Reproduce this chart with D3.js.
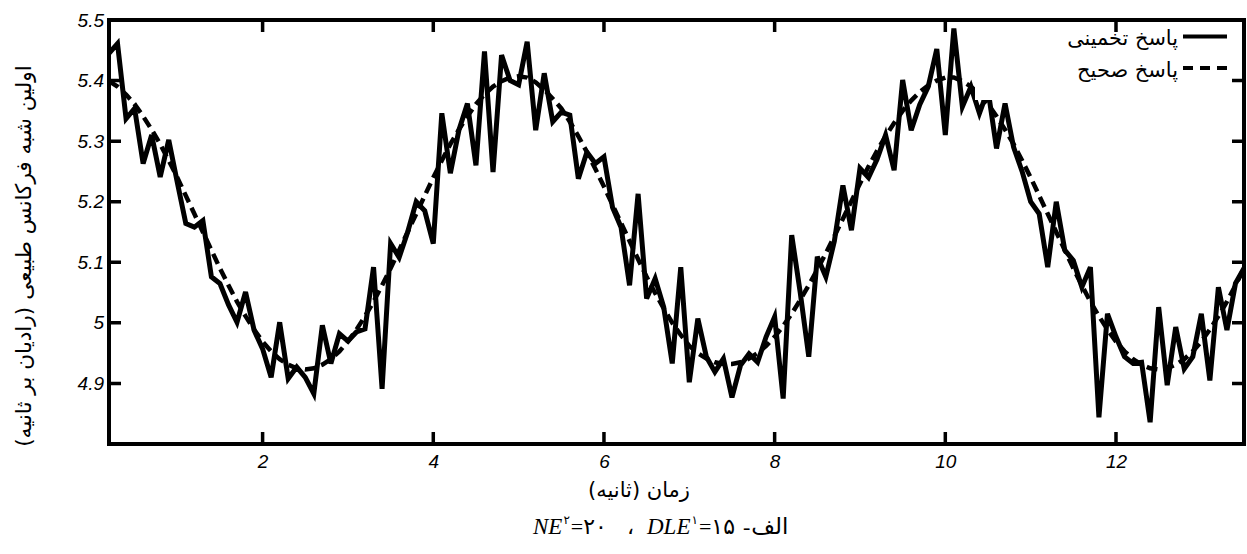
<!DOCTYPE html>
<html>
<head>
<meta charset="utf-8">
<script src="https://cdn.jsdelivr.net/npm/d3@7"></script>
<style>
html,body{margin:0;padding:0;background:#fff;}
svg{display:block;}
</style>
</head>
<body>
<svg id="chart" width="1247" height="554" viewBox="0 0 1247 554"></svg>
<script>
// ---------- data ----------
const timeStart = 0.2;
const timeEnd = 13.5;
const times = d3.range(2, 136).map(k => k / 10); // 0.2 .. 13.5 s

// estimated response (solid)
const estimated = [
5.445,5.461,5.337,5.354,5.263,5.310,5.241,5.302,5.232,5.164,
5.158,5.169,5.076,5.065,5.030,5.001,5.051,4.988,4.957,4.910,
5.001,4.908,4.927,4.910,4.883,4.996,4.933,4.982,4.970,4.985,
4.990,5.092,4.891,5.131,5.108,5.150,5.200,5.185,5.131,5.346,
5.247,5.318,5.362,5.260,5.448,5.249,5.442,5.400,5.393,5.464,
5.318,5.412,5.332,5.348,5.343,5.238,5.282,5.263,5.274,5.191,
5.158,5.062,5.213,5.040,5.073,5.026,4.933,5.092,4.902,5.007,
4.944,4.919,4.941,4.877,4.930,4.949,4.935,4.977,5.010,4.875,
5.145,5.050,4.944,5.109,5.076,5.135,5.227,5.153,5.255,5.240,
5.270,5.310,5.252,5.401,5.318,5.360,5.390,5.452,5.310,5.486,
5.357,5.390,5.346,5.385,5.288,5.362,5.290,5.250,5.200,5.180,
5.092,5.200,5.120,5.103,5.059,5.092,4.844,5.015,4.977,4.944,
4.933,4.935,4.836,5.026,4.897,4.993,4.924,4.944,5.015,4.905,
5.059,4.988,5.065,5.090
];

// exact response (dashed)
const exact = [
5.399,5.390,5.377,5.361,5.341,5.319,5.295,5.268,5.240,5.210,
5.180,5.150,5.120,5.090,5.062,5.035,5.011,4.989,4.969,4.953,
4.940,4.931,4.925,4.923,4.925,4.931,4.940,4.953,4.969,4.989,
5.011,5.035,5.062,5.090,5.120,5.150,5.180,5.210,5.240,5.268,
5.295,5.319,5.341,5.361,5.377,5.390,5.399,5.405,5.407,5.405,
5.397,5.385,5.370,5.354,5.332,5.308,5.282,5.254,5.225,5.195,
5.165,5.135,5.105,5.076,5.049,5.024,5.000,4.980,4.962,4.950,
4.941,4.935,4.932,4.932,4.935,4.941,4.950,4.962,4.977,4.995,
5.015,5.038,5.062,5.088,5.115,5.143,5.172,5.201,5.230,5.258,
5.284,5.308,5.330,5.350,5.367,5.381,5.392,5.400,5.405,5.405,
5.399,5.390,5.377,5.361,5.341,5.319,5.295,5.268,5.240,5.210,
5.180,5.150,5.120,5.090,5.062,5.035,5.011,4.989,4.969,4.953,
4.940,4.931,4.925,4.923,4.925,4.931,4.940,4.953,4.969,4.989,
5.011,5.035,5.062,5.090
];

const xTicks = [2, 4, 6, 8, 10, 12];
const yTicks = [4.9, 5.0, 5.1, 5.2, 5.3, 5.4, 5.5];
const yTickLabels = ["4.9", "5", "5.1", "5.2", "5.3", "5.4", "5.5"];
const yDomain = [4.8, 5.5];
const legendLabels = ["پاسخ تخمینی", "پاسخ صحیح"];
const xTitle = "زمان (ثانیه)";
const yTitle = "اولین شبه فرکانس طبیعی (رادیان بر ثانیه)";

// ---------- drawing ----------
const svg = d3.select("#chart");
const L = 109, R = 1244, T = 20, B = 444;
const TICK = 12, TW = 3.5;
const x = d3.scaleLinear().domain([timeStart, timeEnd]).range([L, R]);
const y = d3.scaleLinear().domain(yDomain).range([B, T]);

const arabicFont = "'DejaVu Sans', sans-serif";
const numFont = "'Liberation Sans', Arial, sans-serif";
const serifFont = "'Liberation Serif', 'Times New Roman', 'DejaVu Sans', serif";

svg.append("rect").attr("width", 1247).attr("height", 554).attr("fill", "#fff");

svg.append("clipPath").attr("id", "plotclip")
  .append("rect").attr("x", L).attr("y", T).attr("width", R - L).attr("height", B - T);

const line = d3.line().x((d, i) => x(times[i])).y(d => y(d));

const plot = svg.append("g").attr("clip-path", "url(#plotclip)");
plot.append("path").datum(exact)
  .attr("d", line).attr("fill", "none").attr("stroke", "#000")
  .style("stroke-width", "4.5px").style("stroke-dasharray", "11px,6px");
plot.append("path").datum(estimated)
  .attr("d", line).attr("fill", "none").attr("stroke", "#000")
  .style("stroke-width", "5px").style("stroke-linejoin", "miter");

// legend box (white, covers lines)
svg.append("rect").attr("x", 975).attr("y", T).attr("width", R - 975).attr("height", 80).attr("fill", "#fff");

// axes labels
function styleAxis(g) {
  g.select(".domain").remove();
  g.selectAll(".tick line").remove();
  g.selectAll("text").attr("fill", "#000")
    .style("font-family", numFont).style("font-style", "italic").style("font-size", "19px");
}
svg.append("g").attr("transform", `translate(${L},0)`)
  .call(d3.axisLeft(y).tickValues(yTicks).tickFormat((d, i) => yTickLabels[i])
    .tickSize(0).tickPadding(5))
  .call(styleAxis);
svg.append("g").attr("transform", `translate(0,${B})`)
  .call(d3.axisBottom(x).tickValues(xTicks).tickFormat(d3.format("d"))
    .tickSize(0).tickPadding(11))
  .call(styleAxis);

// frame
svg.append("rect").attr("x", L).attr("y", T).attr("width", R - L).attr("height", B - T)
  .attr("fill", "none").attr("stroke", "#000").style("stroke-width", "4px");

// inward tick marks, positioned by the scales (one path per side)
function tickSide(pts) {
  const p = d3.path();
  pts.forEach(([x1, y1, x2, y2]) => { p.moveTo(x1, y1); p.lineTo(x2, y2); });
  svg.append("path").attr("d", p.toString())
    .attr("fill", "none").attr("stroke", "#000").style("stroke-width", TW + "px");
}
tickSide(yTicks.map(v => [L, y(v), L + TICK, y(v)]));
tickSide(yTicks.map(v => [R, y(v), R - TICK, y(v)]));
tickSide(xTicks.map(v => [x(v), B, x(v), B - TICK]));
tickSide(xTicks.map(v => [x(v), T, x(v), T + TICK]));

// legend
const legY = [36.5, 68];
const legend = svg.append("g");
legendLabels.forEach((lab, i) => {
  legend.append("line").attr("x1", 1183).attr("x2", 1227).attr("y1", legY[i]).attr("y2", legY[i])
    .attr("stroke", "#000").style("stroke-width", "4px")
    .style("stroke-dasharray", i === 1 ? "10px,7px" : null);
});
function fitFont(sel, target, base) {
  const w = sel.node().getComputedTextLength();
  if (w > 0) sel.style("font-size", (base * target / w) + "px");
}
const legW = [111, 101];
const legBase = [45, 77];
legendLabels.forEach((lab, i) => {
  const t = legend.append("text").attr("x", 1178).attr("y", legBase[i])
    .attr("text-anchor", "end").attr("fill", "#000")
    .style("font-family", arabicFont).style("font-size", "18px").text(lab);
  fitFont(t, legW[i], 18);
});

// axis titles
const xt = svg.append("text").attr("x", 639).attr("y", 497)
  .attr("text-anchor", "middle").attr("direction", "rtl").attr("fill", "#000")
  .style("font-family", arabicFont).style("font-size", "20px").text(xTitle + "\u200F");
fitFont(xt, 102, 20);

const yt = svg.append("text").attr("transform", "translate(31,256) rotate(-90)")
  .attr("text-anchor", "middle").attr("direction", "rtl").attr("fill", "#000")
  .style("font-family", arabicFont).style("font-size", "20px").text(yTitle + "\u200F");
fitFont(yt, 382, 20);

// caption
const capY = 534;
function piece(px, py, str, fam, size, style) {
  const t = svg.append("text").attr("x", px).attr("y", py).attr("fill", "#000")
    .style("font-family", fam).style("font-size", size + "px")
    .style("font-style", style || "normal").text(str);
  return px + t.node().getComputedTextLength();
}
let cx = 533;
cx = piece(cx, capY, "NE", serifFont, 23, "italic");
cx = piece(cx + 1, capY - 10, "۲", arabicFont, 12);
cx = piece(cx + 1, capY, "=۲۰", serifFont, 22);
piece(627, capY, "،", arabicFont, 22);
cx = 647;
cx = piece(cx, capY, "DLE", serifFont, 23, "italic");
cx = piece(cx + 1, capY - 10, "۱", arabicFont, 12);
cx = piece(cx + 1, capY, "=۱۵", serifFont, 22);
cx = piece(cx + 8, capY, "-", serifFont, 22);
piece(cx + 1, capY, "الف", arabicFont, 23);
</script>
</body>
</html>
